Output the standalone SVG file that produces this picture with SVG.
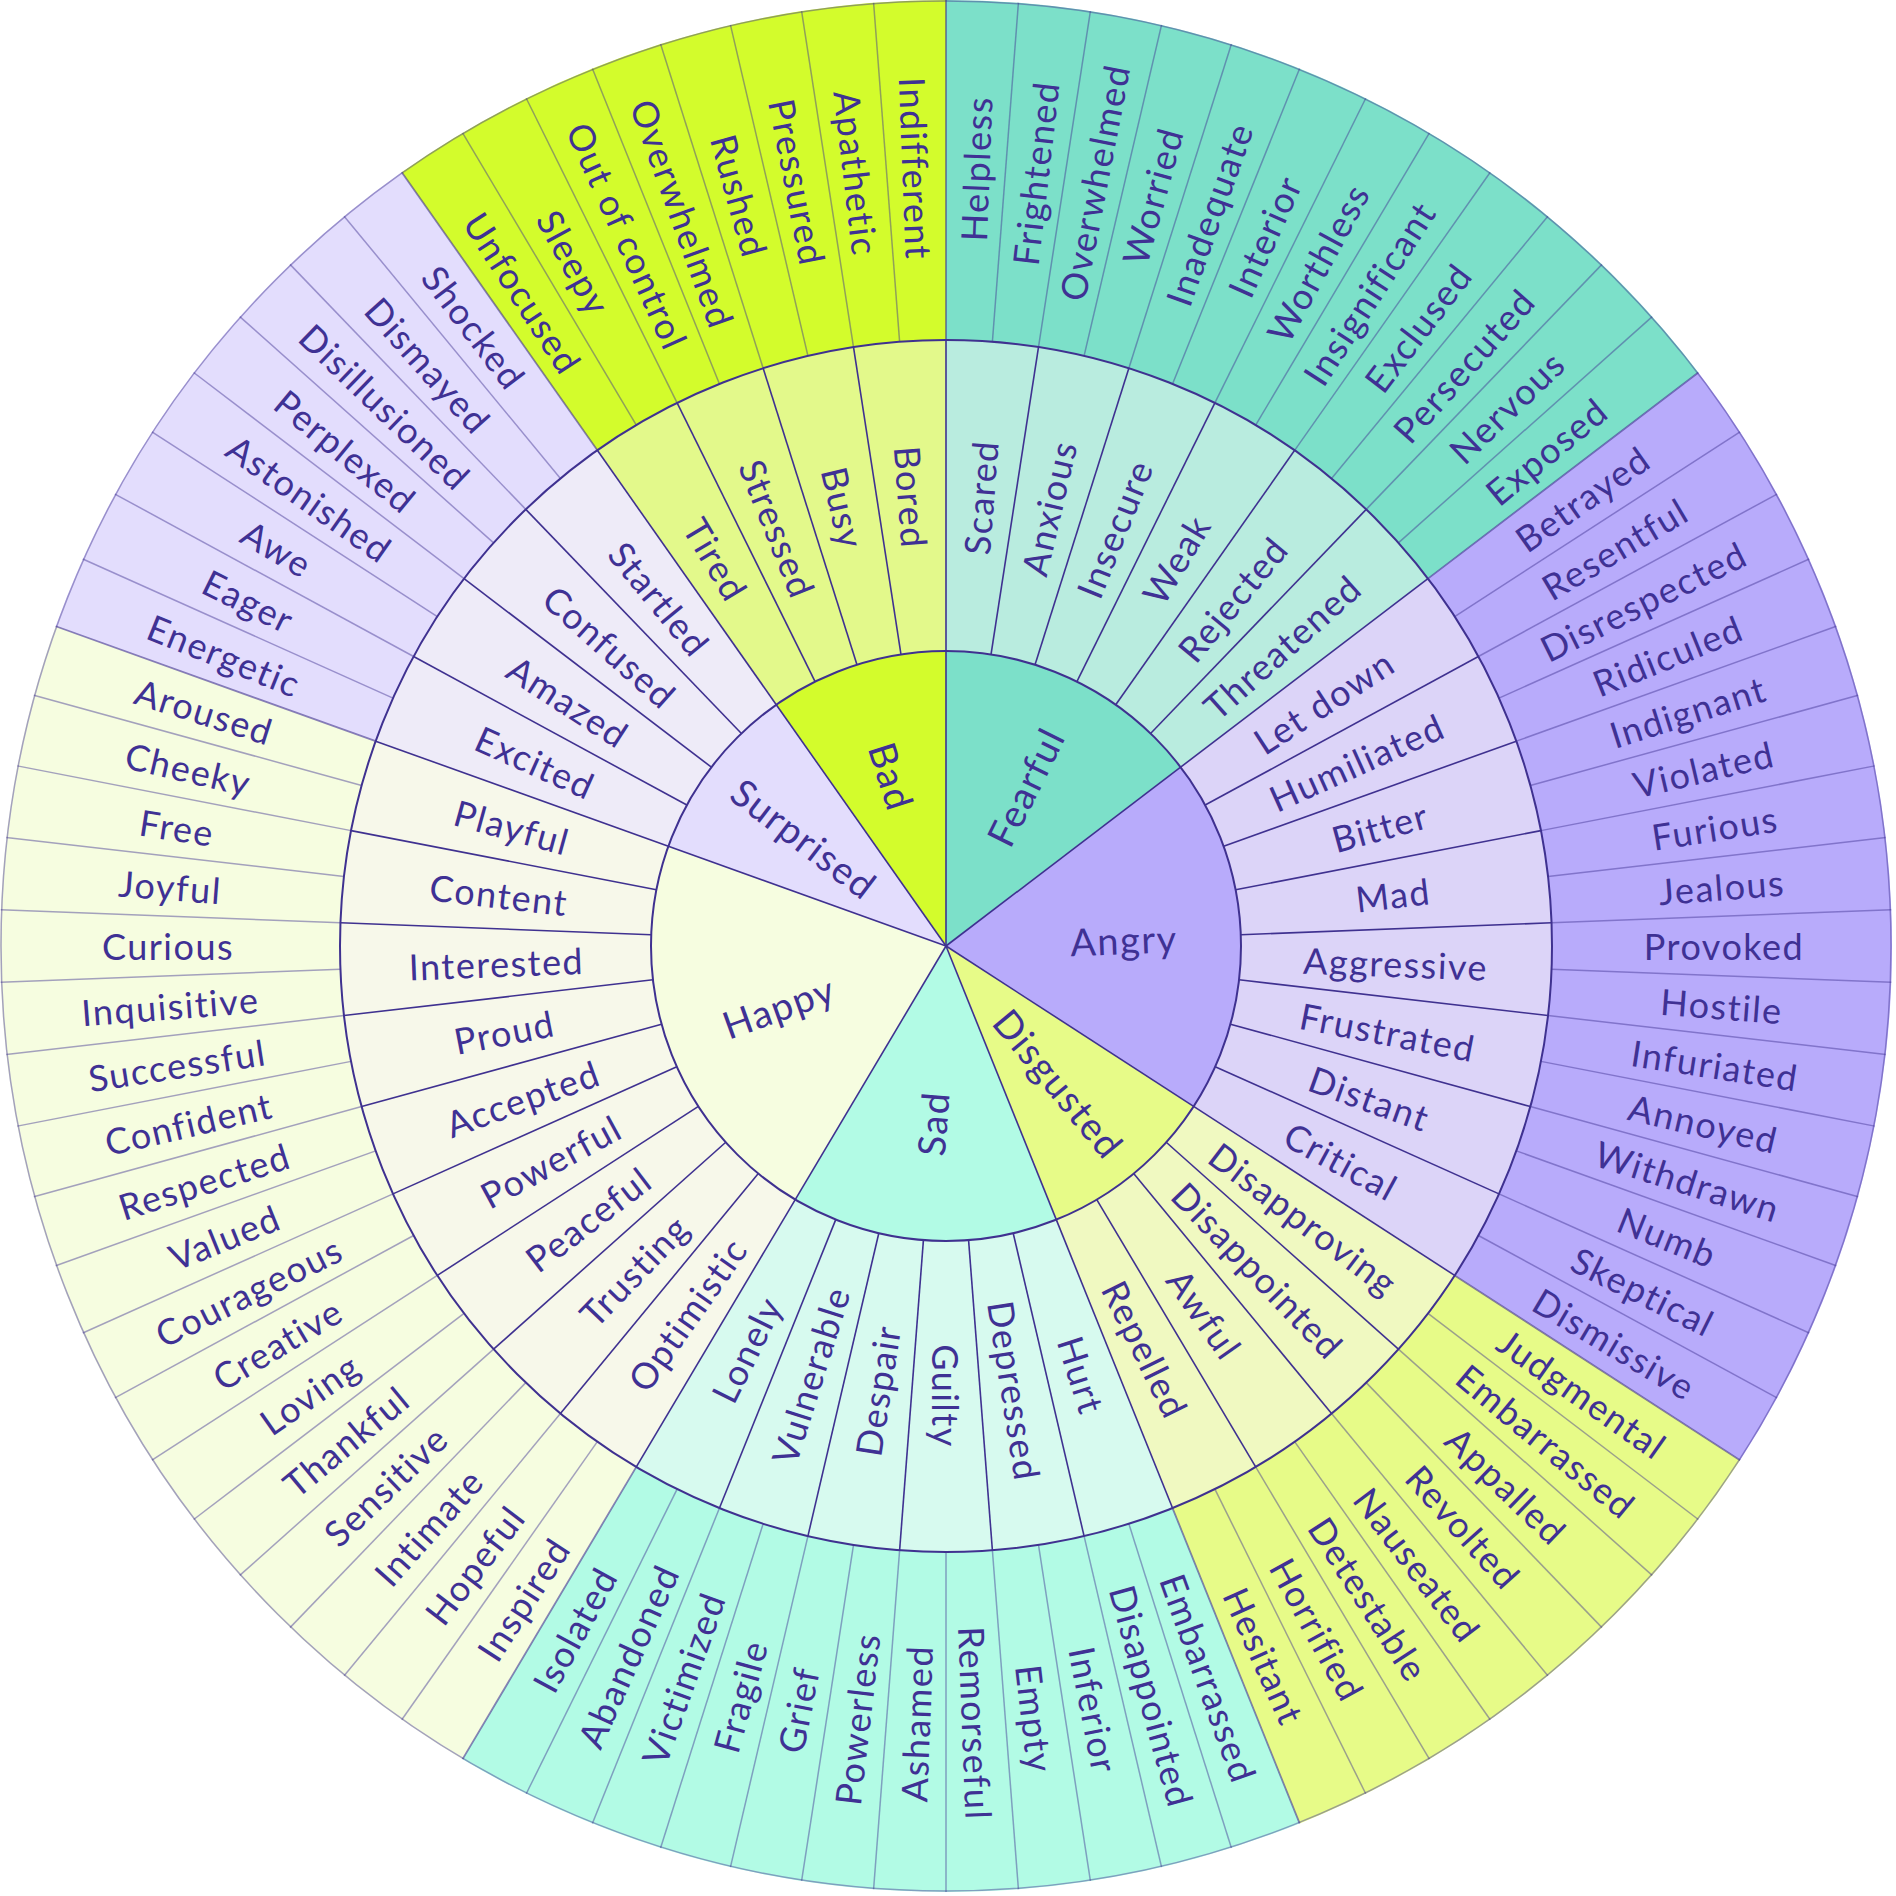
<svg xmlns="http://www.w3.org/2000/svg" xmlns:xlink="http://www.w3.org/1999/xlink" width="1896" height="1896" viewBox="0 0 1896 1896">
<style>
text{font-family:Lato,"Open Sans","Liberation Sans",sans-serif;fill:#3f3194;text-anchor:middle;dominant-baseline:central}
.l{font-size:36px;letter-spacing:1.5px}
.c{font-size:38px;letter-spacing:1.5px}
.lo{stroke:#3f3190;stroke-opacity:0.45;stroke-width:1.5}
.lm{stroke:#3f3190;stroke-width:1.6}
.fe{fill:#7ce0c9}.fe2{fill:#b9ecdf}
.an{fill:#b8abfb}.an2{fill:#dcd4f8}
.di{fill:#e7fb88}.di2{fill:#f0f9c1}
.sa{fill:#b2fbe5}.sa2{fill:#d7faef}
.ha{fill:#f6fde0}.ha2{fill:#f7f8ea}
.su{fill:#e3ddfd}.su2{fill:#eeebf8}
.ba{fill:#d3fc2c}.ba2{fill:#e3f98b}
</style>
<defs>
<line id="olin" x1="0" y1="-606" x2="0" y2="-946" class="lo"/>
<line id="mlin" x1="0" y1="-295" x2="0" y2="-606" class="lm"/>
<line id="clin" x1="0" y1="0" x2="0" y2="-295" class="lm"/>
<line id="cout" x1="0" y1="-606" x2="0" y2="-946" stroke="#3f3190" stroke-opacity="0.6" stroke-width="1.8"/>
</defs>
<g transform="translate(946 946)">

<g id="fearful">
<g transform="rotate(0)">
<path class="fe" d="M0 0L0 -946A946 946 0 0 1 752.34 -573.49Z"/>
<path class="fe2" d="M0 0L0 -606A606 606 0 0 1 481.95 -367.38Z"/>
<path class="fe" d="M0 0L0 -295A295 295 0 0 1 234.61 -178.84Z"/>
</g>
<text class="c" transform="rotate(-63.659)" x="178">Fearful</text>
<text class="l" transform="rotate(-85.610)" x="450">Scared</text>
<text class="l" transform="rotate(-76.829)" x="450">Anxious</text>
<text class="l" transform="rotate(-68.049)" x="450">Insecure</text>
<text class="l" transform="rotate(-59.268)" x="450">Weak</text>
<text class="l" transform="rotate(-50.488)" x="450">Rejected</text>
<text class="l" transform="rotate(-41.707)" x="450">Threatened</text>
<text class="l" transform="rotate(-87.805)" x="778">Helpless</text>
<text class="l" transform="rotate(-83.415)" x="778">Frightened</text>
<text class="l" transform="rotate(-79.024)" x="778">Overwhelmed</text>
<text class="l" transform="rotate(-74.634)" x="778">Worried</text>
<text class="l" transform="rotate(-70.244)" x="778">Inadequate</text>
<text class="l" transform="rotate(-65.854)" x="778">Interior</text>
<text class="l" transform="rotate(-61.463)" x="778">Worthless</text>
<text class="l" transform="rotate(-57.073)" x="778">Insignificant</text>
<text class="l" transform="rotate(-52.683)" x="778">Exclused</text>
<text class="l" transform="rotate(-48.293)" x="778">Persecuted</text>
<text class="l" transform="rotate(-43.902)" x="778">Nervous</text>
<text class="l" transform="rotate(-39.512)" x="778">Exposed</text>
</g>

<g id="angry">
<g transform="rotate(52.683)">
<path class="an" d="M0 0L0 -946A946 946 0 0 1 890.33 -319.77Z"/>
<path class="an2" d="M0 0L0 -606A606 606 0 0 1 570.34 -204.84Z"/>
<path class="an" d="M0 0L0 -295A295 295 0 0 1 277.64 -99.72Z"/>
</g>
<text class="c" transform="rotate(-2.195)" x="178">Angry</text>
<text class="l" transform="rotate(-32.927)" x="450">Let down</text>
<text class="l" transform="rotate(-24.146)" x="450">Humiliated</text>
<text class="l" transform="rotate(-15.366)" x="450">Bitter</text>
<text class="l" transform="rotate(-6.585)" x="450">Mad</text>
<text class="l" transform="rotate(2.195)" x="450">Aggressive</text>
<text class="l" transform="rotate(10.976)" x="450">Frustrated</text>
<text class="l" transform="rotate(19.756)" x="450">Distant</text>
<text class="l" transform="rotate(28.537)" x="450">Critical</text>
<text class="l" transform="rotate(-35.122)" x="778">Betrayed</text>
<text class="l" transform="rotate(-30.732)" x="778">Resentful</text>
<text class="l" transform="rotate(-26.341)" x="778">Disrespected</text>
<text class="l" transform="rotate(-21.951)" x="778">Ridiculed</text>
<text class="l" transform="rotate(-17.561)" x="778">Indignant</text>
<text class="l" transform="rotate(-13.171)" x="778">Violated</text>
<text class="l" transform="rotate(-8.780)" x="778">Furious</text>
<text class="l" transform="rotate(-4.390)" x="778">Jealous</text>
<text class="l" transform="rotate(0)" x="778">Provoked</text>
<text class="l" transform="rotate(4.390)" x="778">Hostile</text>
<text class="l" transform="rotate(8.780)" x="778">Infuriated</text>
<text class="l" transform="rotate(13.171)" x="778">Annoyed</text>
<text class="l" transform="rotate(17.561)" x="778">Withdrawn</text>
<text class="l" transform="rotate(21.951)" x="778">Numb</text>
<text class="l" transform="rotate(26.341)" x="778">Skeptical</text>
<text class="l" transform="rotate(30.732)" x="778">Dismissive</text>
</g>

<g id="disgusted">
<g transform="rotate(122.927)">
<path class="di" d="M0 0L0 -946A946 946 0 0 1 544.25 -773.76Z"/>
<path class="di2" d="M0 0L0 -606A606 606 0 0 1 348.64 -495.67Z"/>
<path class="di" d="M0 0L0 -295A295 295 0 0 1 169.72 -241.29Z"/>
</g>
<text class="c" transform="rotate(50.488)" x="178">Disgusted</text>
<text class="l" transform="rotate(37.317)" x="450">Disapproving</text>
<text class="l" transform="rotate(46.098)" x="450">Disappointed</text>
<text class="l" transform="rotate(54.878)" x="450">Awful</text>
<text class="l" transform="rotate(63.659)" x="450">Repelled</text>
<text class="l" transform="rotate(35.122)" x="778">Judgmental</text>
<text class="l" transform="rotate(39.512)" x="778">Embarrassed</text>
<text class="l" transform="rotate(43.902)" x="778">Appalled</text>
<text class="l" transform="rotate(48.293)" x="778">Revolted</text>
<text class="l" transform="rotate(52.683)" x="778">Nauseated</text>
<text class="l" transform="rotate(57.073)" x="778">Detestable</text>
<text class="l" transform="rotate(61.463)" x="778">Horrified</text>
<text class="l" transform="rotate(65.854)" x="778">Hesitant</text>
</g>

<g id="sad">
<g transform="rotate(158.049)">
<path class="sa" d="M0 0L0 -946A946 946 0 0 1 752.34 -573.49Z"/>
<path class="sa2" d="M0 0L0 -606A606 606 0 0 1 481.95 -367.38Z"/>
<path class="sa" d="M0 0L0 -295A295 295 0 0 1 234.61 -178.84Z"/>
</g>
<text class="c" transform="rotate(-85.610)" x="-178">Sad</text>
<text class="l" transform="rotate(72.439)" x="450">Hurt</text>
<text class="l" transform="rotate(81.220)" x="450">Depressed</text>
<text class="l" transform="rotate(90)" x="450">Guilty</text>
<text class="l" transform="rotate(-81.220)" x="-450">Despair</text>
<text class="l" transform="rotate(-72.439)" x="-450">Vulnerable</text>
<text class="l" transform="rotate(-63.659)" x="-450">Lonely</text>
<text class="l" transform="rotate(70.244)" x="778">Embarrassed</text>
<text class="l" transform="rotate(74.634)" x="778">Disappointed</text>
<text class="l" transform="rotate(79.024)" x="778">Inferior</text>
<text class="l" transform="rotate(83.415)" x="778">Empty</text>
<text class="l" transform="rotate(87.805)" x="778">Remorseful</text>
<text class="l" transform="rotate(-87.805)" x="-778">Ashamed</text>
<text class="l" transform="rotate(-83.415)" x="-778">Powerless</text>
<text class="l" transform="rotate(-79.024)" x="-778">Grief</text>
<text class="l" transform="rotate(-74.634)" x="-778">Fragile</text>
<text class="l" transform="rotate(-70.244)" x="-778">Victimized</text>
<text class="l" transform="rotate(-65.854)" x="-778">Abandoned</text>
<text class="l" transform="rotate(-61.463)" x="-778">Isolated</text>
</g>

<g id="happy">
<g transform="rotate(210.732)">
<path class="ha" d="M0 0L0 -946A946 946 0 0 1 928.70 -180.12Z"/>
<path class="ha2" d="M0 0L0 -606A606 606 0 0 1 594.92 -115.38Z"/>
<path class="ha" d="M0 0L0 -295A295 295 0 0 1 289.60 -56.17Z"/>
</g>
<text class="c" transform="rotate(-19.756)" x="-178">Happy</text>
<text class="l" transform="rotate(-54.878)" x="-450">Optimistic</text>
<text class="l" transform="rotate(-46.098)" x="-450">Trusting</text>
<text class="l" transform="rotate(-37.317)" x="-450">Peaceful</text>
<text class="l" transform="rotate(-28.537)" x="-450">Powerful</text>
<text class="l" transform="rotate(-19.756)" x="-450">Accepted</text>
<text class="l" transform="rotate(-10.976)" x="-450">Proud</text>
<text class="l" transform="rotate(-2.195)" x="-450">Interested</text>
<text class="l" transform="rotate(6.585)" x="-450">Content</text>
<text class="l" transform="rotate(15.366)" x="-450">Playful</text>
<text class="l" transform="rotate(-57.073)" x="-778">Inspired</text>
<text class="l" transform="rotate(-52.683)" x="-778">Hopeful</text>
<text class="l" transform="rotate(-48.293)" x="-778">Intimate</text>
<text class="l" transform="rotate(-43.902)" x="-778">Sensitive</text>
<text class="l" transform="rotate(-39.512)" x="-778">Thankful</text>
<text class="l" transform="rotate(-35.122)" x="-778">Loving</text>
<text class="l" transform="rotate(-30.732)" x="-778">Creative</text>
<text class="l" transform="rotate(-26.341)" x="-778">Courageous</text>
<text class="l" transform="rotate(-21.951)" x="-778">Valued</text>
<text class="l" transform="rotate(-17.561)" x="-778">Respected</text>
<text class="l" transform="rotate(-13.171)" x="-778">Confident</text>
<text class="l" transform="rotate(-8.780)" x="-778">Successful</text>
<text class="l" transform="rotate(-4.390)" x="-778">Inquisitive</text>
<text class="l" transform="rotate(0)" x="-778">Curious</text>
<text class="l" transform="rotate(4.390)" x="-778">Joyful</text>
<text class="l" transform="rotate(8.780)" x="-778">Free</text>
<text class="l" transform="rotate(13.171)" x="-778">Cheeky</text>
<text class="l" transform="rotate(17.561)" x="-778">Aroused</text>
</g>

<g id="surprised">
<g transform="rotate(289.756)">
<path class="su" d="M0 0L0 -946A946 946 0 0 1 544.25 -773.76Z"/>
<path class="su2" d="M0 0L0 -606A606 606 0 0 1 348.64 -495.67Z"/>
<path class="su" d="M0 0L0 -295A295 295 0 0 1 169.72 -241.29Z"/>
</g>
<text class="c" transform="rotate(37.317)" x="-178">Surprised</text>
<text class="l" transform="rotate(24.146)" x="-450">Excited</text>
<text class="l" transform="rotate(32.927)" x="-450">Amazed</text>
<text class="l" transform="rotate(41.707)" x="-450">Confused</text>
<text class="l" transform="rotate(50.488)" x="-450">Startled</text>
<text class="l" transform="rotate(21.951)" x="-778">Energetic</text>
<text class="l" transform="rotate(26.341)" x="-778">Eager</text>
<text class="l" transform="rotate(30.732)" x="-778">Awe</text>
<text class="l" transform="rotate(35.122)" x="-778">Astonished</text>
<text class="l" transform="rotate(39.512)" x="-778">Perplexed</text>
<text class="l" transform="rotate(43.902)" x="-778">Disillusioned</text>
<text class="l" transform="rotate(48.293)" x="-778">Dismayed</text>
<text class="l" transform="rotate(52.683)" x="-778">Shocked</text>
</g>

<g id="bad">
<g transform="rotate(324.878)">
<path class="ba" d="M0 0L0 -946A946 946 0 0 1 544.25 -773.76Z"/>
<path class="ba2" d="M0 0L0 -606A606 606 0 0 1 348.64 -495.67Z"/>
<path class="ba" d="M0 0L0 -295A295 295 0 0 1 169.72 -241.29Z"/>
</g>
<text class="c" transform="rotate(72.439)" x="-178">Bad</text>
<text class="l" transform="rotate(59.268)" x="-450">Tired</text>
<text class="l" transform="rotate(68.049)" x="-450">Stressed</text>
<text class="l" transform="rotate(76.829)" x="-450">Busy</text>
<text class="l" transform="rotate(85.610)" x="-450">Bored</text>
<text class="l" transform="rotate(57.073)" x="-778">Unfocused</text>
<text class="l" transform="rotate(61.463)" x="-778">Sleepy</text>
<text class="l" transform="rotate(65.854)" x="-778">Out of control</text>
<text class="l" transform="rotate(70.244)" x="-778">Overwhelmed</text>
<text class="l" transform="rotate(74.634)" x="-778">Rushed</text>
<text class="l" transform="rotate(79.024)" x="-778">Pressured</text>
<text class="l" transform="rotate(83.415)" x="-778">Apathetic</text>
<text class="l" transform="rotate(87.805)" x="-778">Indifferent</text>
</g>

<g id="connectors">
<use xlink:href="#olin" transform="rotate(4.390)"/><use xlink:href="#olin" transform="rotate(8.780)"/><use xlink:href="#olin" transform="rotate(13.171)"/><use xlink:href="#olin" transform="rotate(17.561)"/><use xlink:href="#olin" transform="rotate(21.951)"/><use xlink:href="#olin" transform="rotate(26.341)"/><use xlink:href="#olin" transform="rotate(30.732)"/><use xlink:href="#olin" transform="rotate(35.122)"/><use xlink:href="#olin" transform="rotate(39.512)"/><use xlink:href="#olin" transform="rotate(43.902)"/><use xlink:href="#olin" transform="rotate(48.293)"/>
<use xlink:href="#olin" transform="rotate(57.073)"/><use xlink:href="#olin" transform="rotate(61.463)"/><use xlink:href="#olin" transform="rotate(65.854)"/><use xlink:href="#olin" transform="rotate(70.244)"/><use xlink:href="#olin" transform="rotate(74.634)"/><use xlink:href="#olin" transform="rotate(79.024)"/><use xlink:href="#olin" transform="rotate(83.415)"/><use xlink:href="#olin" transform="rotate(87.805)"/><use xlink:href="#olin" transform="rotate(92.195)"/><use xlink:href="#olin" transform="rotate(96.585)"/><use xlink:href="#olin" transform="rotate(100.976)"/><use xlink:href="#olin" transform="rotate(105.366)"/><use xlink:href="#olin" transform="rotate(109.756)"/><use xlink:href="#olin" transform="rotate(114.146)"/><use xlink:href="#olin" transform="rotate(118.537)"/>
<use xlink:href="#olin" transform="rotate(127.317)"/><use xlink:href="#olin" transform="rotate(131.707)"/><use xlink:href="#olin" transform="rotate(136.098)"/><use xlink:href="#olin" transform="rotate(140.488)"/><use xlink:href="#olin" transform="rotate(144.878)"/><use xlink:href="#olin" transform="rotate(149.268)"/><use xlink:href="#olin" transform="rotate(153.659)"/>
<use xlink:href="#olin" transform="rotate(162.439)"/><use xlink:href="#olin" transform="rotate(166.829)"/><use xlink:href="#olin" transform="rotate(171.220)"/><use xlink:href="#olin" transform="rotate(175.610)"/><use xlink:href="#olin" transform="rotate(180)"/><use xlink:href="#olin" transform="rotate(184.390)"/><use xlink:href="#olin" transform="rotate(188.780)"/><use xlink:href="#olin" transform="rotate(193.171)"/><use xlink:href="#olin" transform="rotate(197.561)"/><use xlink:href="#olin" transform="rotate(201.951)"/><use xlink:href="#olin" transform="rotate(206.341)"/>
<use xlink:href="#olin" transform="rotate(215.122)"/><use xlink:href="#olin" transform="rotate(219.512)"/><use xlink:href="#olin" transform="rotate(223.902)"/><use xlink:href="#olin" transform="rotate(228.293)"/><use xlink:href="#olin" transform="rotate(232.683)"/><use xlink:href="#olin" transform="rotate(237.073)"/><use xlink:href="#olin" transform="rotate(241.463)"/><use xlink:href="#olin" transform="rotate(245.854)"/><use xlink:href="#olin" transform="rotate(250.244)"/><use xlink:href="#olin" transform="rotate(254.634)"/><use xlink:href="#olin" transform="rotate(259.024)"/><use xlink:href="#olin" transform="rotate(263.415)"/><use xlink:href="#olin" transform="rotate(267.805)"/><use xlink:href="#olin" transform="rotate(272.195)"/><use xlink:href="#olin" transform="rotate(276.585)"/><use xlink:href="#olin" transform="rotate(280.976)"/><use xlink:href="#olin" transform="rotate(285.366)"/>
<use xlink:href="#olin" transform="rotate(294.146)"/><use xlink:href="#olin" transform="rotate(298.537)"/><use xlink:href="#olin" transform="rotate(302.927)"/><use xlink:href="#olin" transform="rotate(307.317)"/><use xlink:href="#olin" transform="rotate(311.707)"/><use xlink:href="#olin" transform="rotate(316.098)"/><use xlink:href="#olin" transform="rotate(320.488)"/>
<use xlink:href="#olin" transform="rotate(329.268)"/><use xlink:href="#olin" transform="rotate(333.659)"/><use xlink:href="#olin" transform="rotate(338.049)"/><use xlink:href="#olin" transform="rotate(342.439)"/><use xlink:href="#olin" transform="rotate(346.829)"/><use xlink:href="#olin" transform="rotate(351.220)"/><use xlink:href="#olin" transform="rotate(355.610)"/>
<use xlink:href="#cout" transform="rotate(0)"/><use xlink:href="#cout" transform="rotate(52.683)"/><use xlink:href="#cout" transform="rotate(122.927)"/><use xlink:href="#cout" transform="rotate(158.049)"/><use xlink:href="#cout" transform="rotate(210.732)"/><use xlink:href="#cout" transform="rotate(289.756)"/><use xlink:href="#cout" transform="rotate(324.878)"/>
<use xlink:href="#mlin" transform="rotate(0)"/><use xlink:href="#mlin" transform="rotate(8.780)"/><use xlink:href="#mlin" transform="rotate(17.561)"/><use xlink:href="#mlin" transform="rotate(26.341)"/><use xlink:href="#mlin" transform="rotate(35.122)"/><use xlink:href="#mlin" transform="rotate(43.902)"/><use xlink:href="#mlin" transform="rotate(52.683)"/><use xlink:href="#mlin" transform="rotate(61.463)"/><use xlink:href="#mlin" transform="rotate(70.244)"/><use xlink:href="#mlin" transform="rotate(79.024)"/><use xlink:href="#mlin" transform="rotate(87.805)"/><use xlink:href="#mlin" transform="rotate(96.585)"/><use xlink:href="#mlin" transform="rotate(105.366)"/><use xlink:href="#mlin" transform="rotate(114.146)"/><use xlink:href="#mlin" transform="rotate(122.927)"/><use xlink:href="#mlin" transform="rotate(131.707)"/><use xlink:href="#mlin" transform="rotate(140.488)"/><use xlink:href="#mlin" transform="rotate(149.268)"/><use xlink:href="#mlin" transform="rotate(158.049)"/><use xlink:href="#mlin" transform="rotate(166.829)"/><use xlink:href="#mlin" transform="rotate(175.610)"/><use xlink:href="#mlin" transform="rotate(184.390)"/><use xlink:href="#mlin" transform="rotate(193.171)"/><use xlink:href="#mlin" transform="rotate(201.951)"/><use xlink:href="#mlin" transform="rotate(210.732)"/><use xlink:href="#mlin" transform="rotate(219.512)"/><use xlink:href="#mlin" transform="rotate(228.293)"/><use xlink:href="#mlin" transform="rotate(237.073)"/><use xlink:href="#mlin" transform="rotate(245.854)"/><use xlink:href="#mlin" transform="rotate(254.634)"/><use xlink:href="#mlin" transform="rotate(263.415)"/><use xlink:href="#mlin" transform="rotate(272.195)"/><use xlink:href="#mlin" transform="rotate(280.976)"/><use xlink:href="#mlin" transform="rotate(289.756)"/><use xlink:href="#mlin" transform="rotate(298.537)"/><use xlink:href="#mlin" transform="rotate(307.317)"/><use xlink:href="#mlin" transform="rotate(316.098)"/><use xlink:href="#mlin" transform="rotate(324.878)"/><use xlink:href="#mlin" transform="rotate(333.659)"/><use xlink:href="#mlin" transform="rotate(342.439)"/><use xlink:href="#mlin" transform="rotate(351.220)"/>
<use xlink:href="#clin" transform="rotate(0)"/><use xlink:href="#clin" transform="rotate(52.683)"/><use xlink:href="#clin" transform="rotate(122.927)"/><use xlink:href="#clin" transform="rotate(158.049)"/><use xlink:href="#clin" transform="rotate(210.732)"/><use xlink:href="#clin" transform="rotate(289.756)"/><use xlink:href="#clin" transform="rotate(324.878)"/>
<circle r="295" fill="none" stroke="#3f3190" stroke-width="2"/>
<circle r="606" fill="none" stroke="#3f3190" stroke-width="2"/>
<circle r="945" fill="none" stroke="#3f3190" stroke-opacity="0.45" stroke-width="1.5"/>
</g>
</g>
</svg>
